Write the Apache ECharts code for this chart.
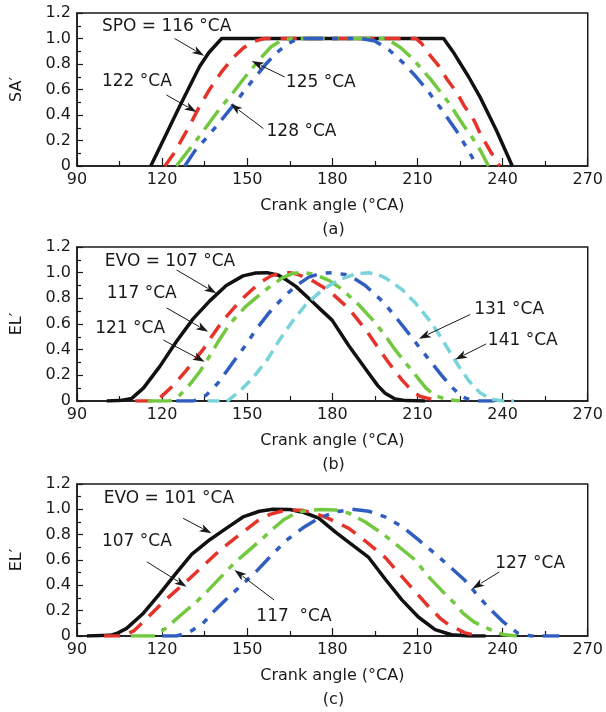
<!DOCTYPE html>
<html>
<head>
<meta charset="utf-8">
<script src="https://cdn.jsdelivr.net/npm/echarts@6/dist/echarts.min.js"></script>
<style>html,body{margin:0;padding:0;background:#fff;}#c{width:606px;height:712px;}</style>
</head>
<body>
<div id="c"></div>
<script>
// ---------- axis ticks ----------
const xTicks = [90, 120, 150, 180, 210, 240, 270];
const yTicks = [0, 0.2, 0.4, 0.6, 0.8, 1.0, 1.2];
const xTitle = 'Crank angle (°CA)';
const yTitles = ['SA′', 'EL′', 'EL′'];
const captions = ['(a)', '(b)', '(c)'];

// ---------- panel (a): SA' vs crank angle ----------
const a_spo116 = [[116,0],[121,0.23],[126.1,0.465],[133.2,0.78],[136.5,0.89],[141,1.0],[219.2,1.0],[223,0.88],[228,0.7],[232.3,0.53],[238,0.27],[243.4,0]];
const a_spo122 = [[121,0],[124.5,0.11],[127,0.21],[130,0.33],[133,0.46],[137,0.61],[141,0.74],[145,0.85],[148.6,0.925],[152,0.975],[156,1.0],[209.5,1.0],[211.5,0.96],[213.6,0.89],[217.7,0.78],[220.4,0.68],[223.9,0.575],[226.5,0.47],[230,0.355],[232.3,0.245],[236.1,0.10],[239,0]];
const a_spo125 = [[125,0],[128.5,0.1],[132,0.2],[136,0.32],[140,0.44],[144.8,0.57],[150,0.72],[155.7,0.87],[158.4,0.935],[162,0.985],[166,1.0],[199,1.0],[204,0.93],[208.4,0.84],[214.8,0.675],[220.9,0.5],[226.2,0.32],[229.4,0.22],[232.5,0.11],[235,0]];
const a_spo128 = [[128,0],[131.4,0.115],[136,0.23],[140,0.335],[144.8,0.467],[150,0.62],[157,0.81],[160.5,0.89],[163.9,0.955],[168,1.0],[190,1.0],[195,0.98],[200,0.91],[205.4,0.8],[209.5,0.70],[213.6,0.59],[218.3,0.45],[223.9,0.27],[228,0.12],[231,0]];

// ---------- panel (b): EL' vs crank angle ----------
const b_evo107 = [[100.5,0],[105,0.003],[109.3,0.02],[113.4,0.1],[119.2,0.27],[125.1,0.465],[130.9,0.64],[136.8,0.78],[142.6,0.9],[148.5,0.975],[153,0.997],[157,1.0],[161,0.98],[164,0.94],[167,0.895],[172.9,0.775],[176,0.71],[179.9,0.63],[185.8,0.43],[192.8,0.216],[196,0.12],[198.6,0.06],[202.1,0.015],[206,0.003],[212.7,0]];
const b_evo117 = [[110.5,0],[116.9,0],[120,0.04],[123.9,0.12],[128.6,0.24],[134.4,0.4],[137.4,0.5],[141.5,0.63],[147.9,0.79],[154.3,0.92],[158.4,0.975],[162,0.997],[165,1.0],[168,0.985],[172,0.95],[178.8,0.86],[185.8,0.72],[191.6,0.56],[196.3,0.41],[199.8,0.3],[204.5,0.165],[208,0.08],[211,0.035],[216.2,0.008],[218,0]];
const b_evo121 = [[115,0],[122.7,0],[126.3,0.047],[129.8,0.13],[133.3,0.23],[136.2,0.33],[139.7,0.46],[143.8,0.6],[149.6,0.74],[157.3,0.88],[162.4,0.96],[166,0.995],[170,1.0],[174,0.985],[178.8,0.94],[183.4,0.87],[189.3,0.75],[195.1,0.61],[198.6,0.51],[202.1,0.4],[206.8,0.27],[210.3,0.175],[213,0.1],[216,0.045],[220,0.012],[225,0]];
const b_evo131 = [[125,0],[131,0],[135.6,0.047],[139.7,0.14],[143.8,0.265],[149.1,0.425],[153.2,0.56],[157.8,0.69],[162.4,0.8],[167,0.895],[171.7,0.965],[176,0.995],[180,1.0],[184.6,0.985],[188,0.95],[191.6,0.9],[197.5,0.78],[201,0.69],[205.7,0.56],[209.2,0.46],[213.8,0.33],[218.5,0.2],[222,0.11],[225.5,0.035],[229,0.005],[231,0],[237,0]];
const b_evo141 = [[136,0],[143,0],[147.3,0.075],[152,0.18],[157.3,0.33],[161.2,0.47],[165.9,0.62],[170.6,0.75],[176.4,0.865],[182.3,0.945],[188.1,0.99],[192.8,1.0],[196,0.985],[198.6,0.96],[204.5,0.87],[209.2,0.765],[213.8,0.64],[217.3,0.53],[220.9,0.4],[224.4,0.275],[228,0.16],[232,0.065],[236,0.015],[240,0],[244,0]];

// ---------- panel (c): EL' vs crank angle ----------
const c_evo101 = [[93.5,0],[101.7,0.005],[104,0.02],[107.5,0.06],[113.4,0.18],[119.2,0.335],[125.1,0.5],[130.4,0.645],[136.8,0.76],[142.6,0.85],[148.5,0.94],[154.3,0.985],[159,1.0],[165,0.998],[170,0.975],[175.2,0.93],[181.1,0.82],[187,0.72],[192.8,0.62],[198.6,0.45],[204.5,0.285],[210.3,0.15],[216.2,0.05],[222,0.01],[227.9,0],[234,0]];
const c_evo107 = [[99.5,0],[106,0],[110,0.04],[115.1,0.15],[120,0.26],[125,0.36],[130,0.46],[136.2,0.59],[141,0.69],[148.5,0.82],[153.7,0.91],[158,0.96],[162,0.985],[166,0.995],[170,0.99],[174,0.965],[178,0.935],[185.8,0.85],[191.6,0.75],[198.6,0.62],[202.1,0.53],[208,0.38],[213.8,0.235],[218,0.14],[220.9,0.09],[226.7,0.025],[231.6,0]];
const c_evo117 = [[109,0],[117.5,0],[121.6,0.066],[126.3,0.16],[132.1,0.27],[136.2,0.36],[142.6,0.51],[146.1,0.59],[150.8,0.68],[154.9,0.76],[159,0.845],[163,0.92],[167,0.97],[171,0.99],[176,0.998],[181.1,0.995],[185.8,0.97],[191.6,0.9],[197.5,0.81],[202.1,0.73],[209.2,0.6],[213.8,0.47],[218.5,0.36],[223.2,0.255],[226,0.18],[230,0.11],[235.7,0.05],[240,0.012],[245,0]];
const c_evo127 = [[120,0],[125.1,0],[129.8,0.034],[134.4,0.1],[138,0.19],[142.6,0.29],[147.9,0.4],[153.2,0.51],[157.8,0.62],[163.5,0.75],[169.4,0.85],[175.2,0.93],[181.1,0.98],[187,1.0],[192.8,0.985],[198.6,0.94],[204.5,0.865],[210.3,0.76],[216.2,0.65],[222,0.535],[226.7,0.44],[230.3,0.345],[235,0.225],[239.8,0.12],[245.2,0.025],[250,0],[260,0]];

// ---------- annotations (data coordinates) ----------
const labelsA = [['SPO = 116 °CA',[98.8,1.09]],['122 °CA',[98.8,0.659]],['125 °CA',[163.6,0.651]],['128 °CA',[156.8,0.267]]];
const arrowsA = [[[124.4,1.0],[134.8,0.865]],[[121.5,0.557],[132.1,0.424]],[[163.2,0.698],[151.6,0.823]],[[155.7,0.294],[144.1,0.487]]];
const labelsB = [['EVO = 107 °CA',[99.8,1.086]],['117 °CA',[100.5,0.839]],['121 °CA',[96.4,0.567]],['131 °CA',[230,0.715]],['141 °CA',[234.8,0.472]]];
const arrowsB = [[[125.1,1.021],[139.1,0.839]],[[121.6,0.725],[136.2,0.54]],[[120.4,0.475],[135,0.306]],[[228.6,0.674],[210.5,0.486]],[[234.2,0.445],[223.3,0.323]]];
const labelsC = [['EVO = 101 °CA',[99.4,1.087]],['107 °CA',[98.8,0.744]],['117  °CA',[153.2,0.152]],['127 °CA',[237.4,0.571]]];
const arrowsC = [[[127.4,0.929],[137.4,0.811]],[[114.6,0.586],[128.6,0.389]],[[159.5,0.284],[145.5,0.521]],[[238.8,0.505],[229.3,0.374]]];

// ---------- styles ----------
const FONT = '"DejaVu Sans", "Liberation Sans", sans-serif';
const INK = '#1a1a1a';
const S_BLACK = {color:'#111111', type:'solid'};
const S_RED = {color:'#e5332a', type:[16,10]};
const S_GREEN = {color:'#72c83e', type:[24,8,6,8]};
const S_BLUE = {color:'#2f5ec0', type:[20,9,6,9,6,9]};
const S_CYAN = {color:'#78d3da', type:[12,7]};

const panels = [
  {series:[[a_spo116,S_BLACK],[a_spo122,S_RED],[a_spo125,S_GREEN],[a_spo128,S_BLUE]], labels:labelsA, arrows:arrowsA},
  {series:[[b_evo107,S_BLACK],[b_evo117,S_RED],[b_evo121,S_GREEN],[b_evo131,S_BLUE],[b_evo141,S_CYAN]], labels:labelsB, arrows:arrowsB},
  {series:[[c_evo101,S_BLACK],[c_evo107,S_RED],[c_evo117,S_GREEN],[c_evo127,S_BLUE]], labels:labelsC, arrows:arrowsC}
];
const gridBoxes = [
  {left:77, width:513, top:13, height:153},
  {left:77, width:513, top:247, height:154},
  {left:77, width:513, top:484, height:152}
];

const grids = [], xAxes = [], yAxes = [], series = [];
panels.forEach((p, i) => {
  grids.push(Object.assign({show:true, borderColor:INK, borderWidth:1.5, backgroundColor:'transparent'}, gridBoxes[i]));
  xAxes.push({
    type:'value', gridIndex:i, min:xTicks[0], max:xTicks[xTicks.length-1], interval:xTicks[1]-xTicks[0],
    name:xTitle, nameLocation:'middle', nameGap:32,
    nameTextStyle:{fontFamily:FONT, fontSize:16, color:INK},
    axisLine:{show:true, lineStyle:{color:INK, width:1.5}},
    axisTick:{show:true, inside:true, length:8, lineStyle:{color:INK, width:1.2}},
    minorTick:{show:true, splitNumber:2, length:5, lineStyle:{color:INK, width:1.2}},
    axisLabel:{fontFamily:FONT, fontSize:16, color:INK, margin:6},
    splitLine:{show:false}
  });
  yAxes.push({
    type:'value', gridIndex:i, min:yTicks[0], max:yTicks[yTicks.length-1], interval:yTicks[1]-yTicks[0],
    name:yTitles[i], nameLocation:'middle', nameGap:52,
    nameTextStyle:{fontFamily:FONT, fontSize:16, color:INK},
    axisLine:{show:true, lineStyle:{color:INK, width:1.5}},
    axisTick:{show:true, inside:true, length:6, lineStyle:{color:INK, width:1.2}},
    minorTick:{show:true, splitNumber:2, length:4, lineStyle:{color:INK, width:1.2}},
    axisLabel:{fontFamily:FONT, fontSize:16, color:INK, margin:6,
      formatter:v => (Math.abs(v) < 1e-9 ? '0' : v.toFixed(1))},
    splitLine:{show:false}
  });
  p.series.forEach(([data, st], k) => {
    series.push({
      type:'line', xAxisIndex:i, yAxisIndex:i, data:data,
      symbol:'none', showSymbol:false, smooth:false,
      lineStyle:{color:st.color, width:3.5, type:st.type, cap:'butt', join:'round'},
      z:2+k, animation:false, silent:true
    });
  });
});

const chart = echarts.init(document.getElementById('c'), null, {renderer:'canvas'});
chart.setOption({
  animation:false,
  backgroundColor:'#ffffff',
  grid:grids, xAxis:xAxes, yAxis:yAxes, series:series
});

// ---------- annotations via the chart's own coordinate conversion ----------
const graphics = [];
panels.forEach((p, i) => {
  p.labels.forEach(([txt, at]) => {
    const q = chart.convertToPixel({gridIndex:i}, at);
    graphics.push({type:'text', x:q[0], y:q[1], z:100,
      style:{text:txt, font:'17px ' + FONT, fill:INK, align:'left', verticalAlign:'middle'}});
  });
  p.arrows.forEach(([from, to]) => {
    const a = chart.convertToPixel({gridIndex:i}, from);
    const b = chart.convertToPixel({gridIndex:i}, to);
    const dx = b[0]-a[0], dy = b[1]-a[1], L = Math.hypot(dx, dy);
    const ux = dx/L, uy = dy/L, nx = -uy, ny = ux;
    const hl = 12, hw = 4;
    const bx = b[0]-ux*hl, by = b[1]-uy*hl;
    graphics.push({type:'line', z:100, shape:{x1:a[0], y1:a[1], x2:bx+ux*2, y2:by+uy*2},
      style:{stroke:INK, lineWidth:1}});
    graphics.push({type:'polygon', z:100, shape:{points:[[b[0],b[1]],[bx+nx*hw, by+ny*hw],[bx+ux*3, by+uy*3],[bx-nx*hw, by-ny*hw]]},
      style:{fill:INK}});
  });
  const g = gridBoxes[i];
  graphics.push({type:'text', x:g.left + g.width/2, y:g.top + g.height + 63.5, z:100,
    style:{text:captions[i], font:'16px ' + FONT, fill:INK, align:'center', verticalAlign:'middle'}});
});
chart.setOption({graphic:graphics});
</script>
</body>
</html>
